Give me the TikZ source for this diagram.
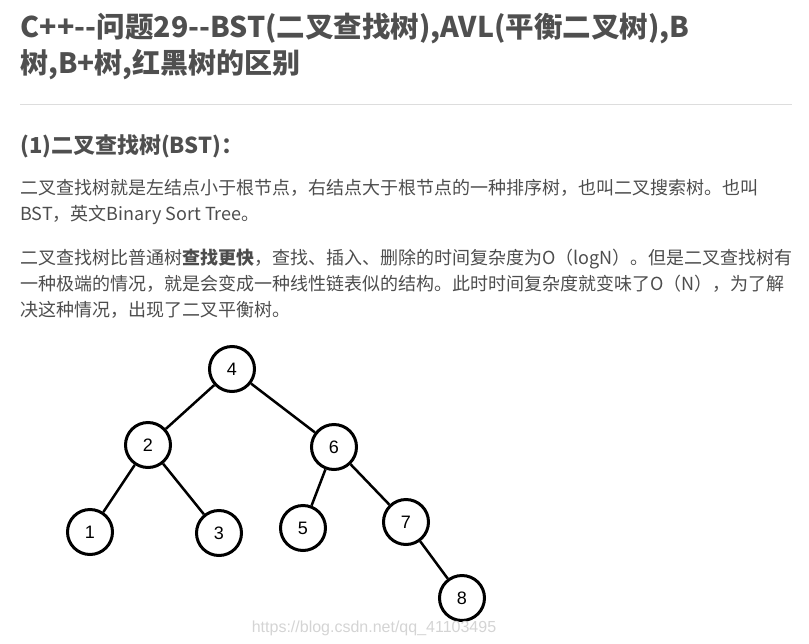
\documentclass[tikz,border=0pt]{standalone}
\usepackage{fontspec}
\setmainfont{Noto Sans CJK SC}
\newfontfamily\numfont{Liberation Sans}
\definecolor{titlegray}{HTML}{4F4F4F}
\definecolor{textgray}{HTML}{4D4D4D}
\definecolor{rulegray}{HTML}{DDDDDD}
\definecolor{markgray}{HTML}{D4D4D4}
\tikzset{bstnode/.style = {draw, circle, line width=3pt, minimum size=45pt,
                           inner sep=0pt, font=\numfont\fontsize{18}{18}\selectfont},
         bstedge/.style = {line width=2.5pt},
         para/.style = {anchor=base west, inner sep=0pt, text=textgray,
                        font=\fontsize{18}{26}\selectfont}}

\begin{document}
\begin{tikzpicture}[x=1pt, y=-1pt]
    \useasboundingbox (0,0) rectangle (809,643);
    \node (title1) at (20,37) [anchor=base west, inner sep=0pt, text=titlegray,
      font=\bfseries\fontsize{28.5}{36}\selectfont]
      {C+\kern1pt+-\kern0pt-问题29-\kern0pt-BST(二叉查找树),AVL(平衡二叉树),B};
    \node (title2) at (20,73) [anchor=base west, inner sep=0pt, text=titlegray,
      font=\bfseries\fontsize{28}{36}\selectfont] {树,B+树,红黑树的区别};
    \draw [rulegray, line width=1pt] (20,104) -- (792,104);
    \node (head) at (20,153) [anchor=base west, inner sep=0pt, text=titlegray,
      font=\bfseries\fontsize{22}{26}\selectfont] {(1)二叉查找树(BST)：};
    \node (p1) at (20,194) [para] {二叉查找树就是左结点小于根节点，右结点大于根节点的一种排序树，也叫二叉搜索树。也叫};
    \node (p2) at (20,220) [para] {BST，英文Binary Sort Tree。};
    \node (p3) at (20,264) [para] {二叉查找树比普通树\textbf{查找更快}，查找、插入、删除的时间复杂度为O（logN）。但是二叉查找树有};
    \node (p4) at (20,290) [para] {一种极端的情况，就是会变成一种线性链表似的结构。此时时间复杂度就变味了O（N），为了解};
    \node (p5) at (20,316) [para] {决这种情况，出现了二叉平衡树。};
    % tree
    \node (n4) at (232,369) [bstnode] {4};
    \node (n2) at (148,445) [bstnode] {2};
    \node (n6) at (334,447) [bstnode] {6};
    \node (n1) at (90,532) [bstnode] {1};
    \node (n3) at (219,533) [bstnode] {3};
    \node (n5) at (303,528) [bstnode] {5};
    \node (n7) at (406,522) [bstnode] {7};
    \node (n8) at (462,598) [bstnode] {8};
    \draw [bstedge] (n4) -- (n2);
    \draw [bstedge] (n4) -- (n6);
    \draw [bstedge] (n2) -- (n1);
    \draw [bstedge] (n2) -- (n3);
    \draw [bstedge] (n6) -- (n5);
    \draw [bstedge] (n6) -- (n7);
    \draw [bstedge] (n7) -- (n8);
    \node (mark) at (374,628) [text=markgray, font=\numfont\fontsize{16}{16}\selectfont]
      {https://blog.csdn.net/qq\_41103495};
\end{tikzpicture}
\end{document}
